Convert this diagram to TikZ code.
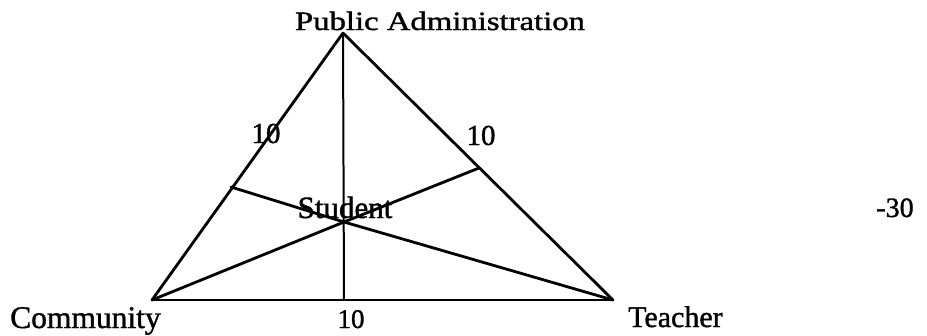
\documentclass[tikz,border=0pt]{standalone}
\usepackage{fontspec}
\setmainfont{Liberation Serif}[FakeBold=1.2]
\tikzset{
  lbl/.style={inner sep=0pt, anchor=base},
  edge/.style={line width=2.8pt, line cap=round},
  thin/.style={line width=2pt}
}
\begin{document}
\begin{tikzpicture}[x=1pt,y=-1pt]
\useasboundingbox (0,0) rectangle (927,335);
\coordinate (A) at (343,33);
\coordinate (C) at (152,300);
\coordinate (T) at (613,300);
\coordinate (S) at (344,222);
\coordinate (M) at (344,300);
\coordinate (L) at (231,187);
\coordinate (R) at (479,168);
\draw[edge] (A) -- (C);
\draw[edge] (A) -- (T);
\draw[thin] (C) -- (T);
\draw[thin] (A) -- (M);
\draw[edge] (C) -- (S) -- (T);
\draw[edge] (L) -- (S) -- (R);
\node[lbl] (pa) at (440,30) {\fontsize{26.5}{30}\selectfont\scalebox{1.235}[1]{Public Administration}};
\node[lbl, anchor=base west] (co) at (10,328) {\fontsize{31.5}{36}\selectfont Community};
\node[lbl, anchor=base west] (te) at (628,327) {\fontsize{30}{34}\selectfont Teacher};
\node[lbl] (b10) at (351,328) {\fontsize{27}{32}\selectfont 10};
\node[lbl] (l10) at (266,143) {\fontsize{29}{34}\selectfont 10};
\node[lbl] (r10) at (481,145) {\fontsize{29}{34}\selectfont 10};
\node[lbl] (m30) at (895,217) {\fontsize{28}{33}\selectfont -30};
\node[lbl] (st) at (345,218) {\fontsize{31}{36}\selectfont Student};
\end{tikzpicture}
\end{document}
